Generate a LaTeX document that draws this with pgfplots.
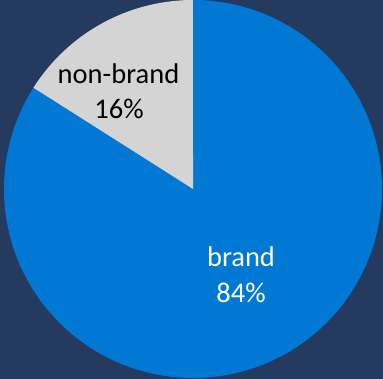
\documentclass[border=0pt]{standalone}
\usepackage{pgfplots}
\usepackage{pgfplotstable}
\pgfplotsset{compat=1.18}
\usepackage{fontspec}
\setmainfont{Carlito}
\definecolor{bg}{HTML}{243A5E}
\definecolor{brandblue}{HTML}{0078D4}
\definecolor{nbgray}{HTML}{D4D4D4}
\pgfplotstableread{
label value
brand 84
non-brand 16
}\piedata
\begin{document}
\begin{tikzpicture}
\pgfplotstablegetelem{0}{value}\of\piedata\let\vA\pgfplotsretval
\pgfplotstablegetelem{1}{value}\of\piedata\let\vB\pgfplotsretval
\pgfmathsetmacro\total{\vA+\vB}
\pgfmathsetmacro\aA{90-360*(\vA/\total)}
\pgfmathsetmacro\aB{\aA-360*(\vB/\total)}
\begin{axis}[
  scale only axis, width=383bp, height=379bp,
  xmin=0, xmax=383, ymin=0, ymax=379, y dir=reverse,
  hide axis, clip=false,
]
\coordinate (sw) at (rel axis cs:0,0);
\coordinate (ne) at (rel axis cs:1,1);
\fill[bg] (rel axis cs:0,0) rectangle (rel axis cs:1,1);
\fill[brandblue] (axis cs:193,189) -- ++(90:189bp) arc[start angle=90, end angle=\aA, radius=189bp] -- cycle;
\fill[nbgray] (axis cs:193,189) -- ++(\aA:189bp) arc[start angle=\aA, end angle=\aB, radius=189bp] -- cycle;
\node[anchor=base, text=white, font=\fontsize{28.5bp}{34bp}\selectfont] at (axis cs:241,266) {brand};
\node[anchor=base, text=white, font=\fontsize{28.5bp}{34bp}\selectfont] at (axis cs:241,302) {\vA\%};
\node[anchor=base, text=black, font=\fontsize{28.5bp}{34bp}\selectfont] at (axis cs:118.5,83) {non-brand};
\node[anchor=base, text=black, font=\fontsize{28.5bp}{34bp}\selectfont] at (axis cs:119,118) {\vB\%};
\end{axis}
\pgfresetboundingbox
\path[use as bounding box] (sw) rectangle (ne);
\end{tikzpicture}
\end{document}
